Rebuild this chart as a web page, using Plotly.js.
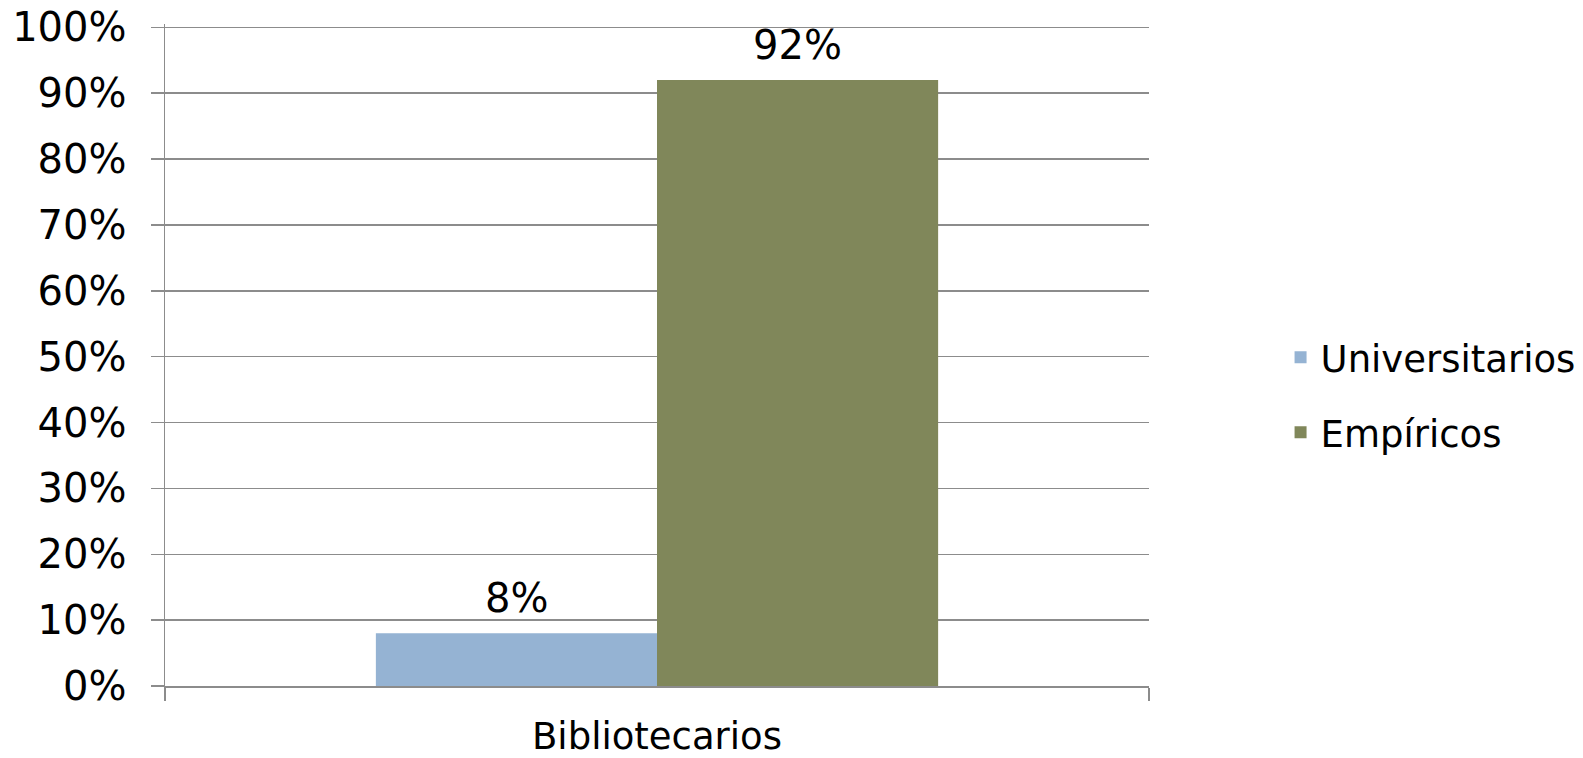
<!DOCTYPE html>
<html>
<head>
<meta charset="utf-8">
<script src="https://cdn.plot.ly/plotly-3.0.1.min.js"></script>
<style>html,body{margin:0;padding:0;background:#fff;}#chart{width:1583px;height:758px;}</style>
</head>
<body>
<div id="chart"></div>
<script>
const categories = ["Bibliotecarios"];
const seriesNames = ["Universitarios", "Empíricos"];
const universitarios = [0.08];
const empiricos = [0.92];
const yTickValues = [0, 0.1, 0.2, 0.3, 0.4, 0.5, 0.6, 0.7, 0.8, 0.9, 1.0];

const FONT = "DejaVu Sans, sans-serif";
const FS = 37;
const FS_TICK = 40;
const colors = ["#95B3D3", "#80875A"];
const seriesValues = [universitarios, empiricos];

const traces = seriesValues.map((vals, i) => ({
  type: "bar",
  name: seriesNames[i],
  x: categories,
  y: vals,
  marker: {color: colors[i], line: {width: 0}},
  legendgroup: "g" + i,
  hoverinfo: "x+y+name"
}));

const barHalfOffset = 140.5;
const annotations = [];
seriesValues.forEach((vals, i) => {
  vals.forEach((v, j) => {
    annotations.push({
      x: categories[j], y: v, xref: "x", yref: "y",
      text: Math.round(v * 100) + "%",
      showarrow: false,
      yanchor: "middle",
      yshift: 35,
      xshift: (i === 0 ? -1 : 1) * barHalfOffset,
      font: {family: FONT, size: FS_TICK, color: "#000"}
    });
  });
});

const layout = {
  width: 1583, height: 758,
  margin: {l: 165, r: 434, t: 24, b: 71.5, autoexpand: false},
  paper_bgcolor: "#fff", plot_bgcolor: "#fff",
  font: {family: FONT, size: FS, color: "#000"},
  barmode: "group",
  bargap: 0.4286,
  bargroupgap: 0,
  showlegend: true,
  legend: {
    x: 1.1337, xanchor: "left", y: 0.4393, yanchor: "middle",
    traceorder: "grouped", tracegroupgap: 24,
    font: {family: FONT, size: FS, color: "#000"},
    bgcolor: "rgba(0,0,0,0)"
  },
  xaxis: {
    type: "category",
    tickson: "boundaries",
    ticks: "outside", ticklen: 13, tickwidth: 1.5, tickcolor: "#8c8c8c",
    showline: true, linecolor: "#8c8c8c", linewidth: 1.5,
    showgrid: false, zeroline: false,
    ticklabelstandoff: 17,
    tickfont: {family: FONT, size: FS, color: "#000"}
  },
  yaxis: {
    range: [0, 1.005],
    tickvals: yTickValues,
    tickformat: ".0%",
    ticks: "outside", ticklen: 13, tickwidth: 1.5, tickcolor: "#8c8c8c",
    showline: true, linecolor: "#8c8c8c", linewidth: 1.5,
    showgrid: true, gridcolor: "#8c8c8c", gridwidth: 1.5,
    zeroline: false,
    ticklabelstandoff: 16,
    tickfont: {family: FONT, size: FS_TICK, color: "#000"}
  },
  annotations: annotations
};

Plotly.newPlot("chart", traces, layout, {displayModeBar: false, staticPlot: true});
</script>
</body>
</html>
